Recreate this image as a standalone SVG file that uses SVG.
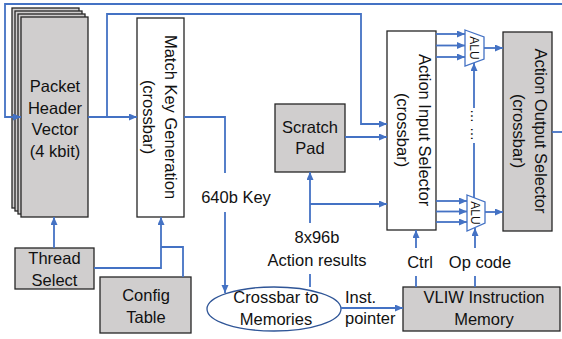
<svg xmlns="http://www.w3.org/2000/svg" width="562" height="339" viewBox="0 0 562 339">
  <defs>
    <marker id="arrow" markerUnits="userSpaceOnUse" markerWidth="9" markerHeight="8" refX="8" refY="3.5" orient="auto">
      <path d="M0,0 L8,3.5 L0,7 z" fill="#4472C4"/>
    </marker>
    <style>
      .box { fill: #D0CECE; stroke: #262626; stroke-width: 1.3; }
      .wbox { fill: #FFFFFF; stroke: #262626; stroke-width: 1.3; }
      .alu { fill: #FFFFFF; stroke: #4472C4; stroke-width: 1.3; }
      .wire { fill: none; stroke: #4472C4; stroke-width: 1.8; }
      .arr { marker-end: url(#arrow); }
      text { font-family: "Liberation Sans", Arial, sans-serif; font-size: 16.5px; fill: #111111; }
      .c { text-anchor: middle; }
      .small { font-size: 12px; }
    </style>
  </defs>
  <rect width="562" height="339" fill="#FFFFFF"/>

  <!-- Packet header vector: stack of four thread copies -->
  <g id="phv">
    <rect class="box" x="12" y="8" width="67" height="200"/>
    <rect class="box" x="15" y="11" width="67" height="200"/>
    <rect class="box" x="18" y="14" width="67" height="200"/>
    <rect class="box" x="21" y="17" width="67" height="200"/>
    <text class="c" x="55" y="92">Packet</text>
    <text class="c" x="55" y="113.5">Header</text>
    <text class="c" x="55" y="135">Vector</text>
    <text class="c" x="55" y="157">(4 kbit)</text>
  </g>

  <g id="match-key">
    <rect class="wbox" x="137" y="18" width="47" height="199"/>
    <text class="c" transform="translate(165,117) rotate(90)">Match Key Generation</text>
    <text class="c" transform="translate(143,117) rotate(90)">(crossbar)</text>
  </g>

  <g id="scratch-pad">
    <rect class="box" x="275" y="104" width="70" height="68"/>
    <text class="c" x="310" y="133">Scratch</text>
    <text class="c" x="310" y="154">Pad</text>
  </g>

  <g id="action-input">
    <rect class="wbox" x="387" y="31" width="49" height="199"/>
    <text class="c" transform="translate(419,130) rotate(90)">Action Input Selector</text>
    <text class="c" transform="translate(397,130) rotate(90)">(crossbar)</text>
  </g>

  <g id="alu-top">
    <path class="alu" d="M465,30 L484,37 L484,59 L465,66 Z"/>
    <text class="c small" transform="translate(469.5,48) rotate(90)">ALU</text>
  </g>

  <g id="alu-bottom">
    <path class="alu" d="M467,195 L485,202 L485,223 L467,231 Z"/>
    <text class="c small" transform="translate(471,213) rotate(90)">ALU</text>
  </g>

  <g id="action-output">
    <rect class="box" x="503" y="32" width="49" height="199"/>
    <text class="c" transform="translate(535,131) rotate(90)">Action Output Selector</text>
    <text class="c" transform="translate(513,131) rotate(90)">(crossbar)</text>
  </g>

  <g id="thread-select">
    <rect class="box" x="15" y="248" width="79" height="41"/>
    <text class="c" x="54.5" y="264">Thread</text>
    <text class="c" x="54.5" y="286">Select</text>
  </g>

  <g id="config-table">
    <rect class="box" x="100" y="277" width="91" height="56"/>
    <text class="c" x="146" y="301">Config</text>
    <text class="c" x="146" y="323">Table</text>
  </g>

  <g id="crossbar-mem">
    <ellipse cx="274" cy="309" rx="67" ry="22" fill="#FFFFFF" stroke="#2F5597" stroke-width="1.3"/>
    <text class="c" x="276" y="303">Crossbar to</text>
    <text class="c" x="276" y="325">Memories</text>
  </g>

  <g id="vliw">
    <rect class="box" x="403" y="287" width="157" height="44"/>
    <text class="c" x="484" y="303">VLIW Instruction</text>
    <text class="c" x="484" y="325">Memory</text>
  </g>

  <!-- Connectors -->
  <g id="connectors">
    <!-- recirculation loop back into the PHV -->
    <path class="wire" d="M562,4 L5,4 L5,117 L21,117" marker-end="url(#arrow)"/>
    <path class="wire" d="M552,132 L562,132"/>
    <!-- PHV to match key generation, with branch to action input selector -->
    <path class="wire arr" d="M88,117 L137,117"/>
    <path class="wire arr" d="M107,117 L107,14 L361,14 L361,124 L387,124"/>
    <!-- 640b key to crossbar -->
    <path class="wire" d="M184,117 L225,117 L225,173"/>
    <path class="wire arr" d="M225,212 L225,293"/>
    <!-- action results -->
    <path class="wire" d="M310,287 L310,274"/>
    <path class="wire arr" d="M310,223 L310,172"/>
    <path class="wire arr" d="M310,204 L387,204"/>
    <!-- scratch pad to input selector -->
    <path class="wire arr" d="M345,137 L387,137"/>
    <!-- input selector to ALUs -->
    <path class="wire arr" d="M436,34 L465,34"/>
    <path class="wire arr" d="M436,45.5 L465,45.5"/>
    <path class="wire arr" d="M436,57 L465,57"/>
    <path class="wire arr" d="M436,201 L467,201"/>
    <path class="wire arr" d="M436,211.5 L467,211.5"/>
    <path class="wire arr" d="M436,222 L467,222"/>
    <!-- ALUs to output selector -->
    <path class="wire arr" d="M484,48 L503,48"/>
    <path class="wire arr" d="M485,212 L503,212"/>
    <!-- opcode chain between ALUs -->
    <path class="wire" d="M474,198 L474,143"/>
    <path class="wire arr" d="M474,108 L474,63"/>
    <text transform="translate(471,109) rotate(90)" style="font-size:14px">… …</text>
    <!-- thread select and config table -->
    <path class="wire arr" d="M54,248 L54,217"/>
    <path class="wire arr" d="M94,268 L161,268 L161,217"/>
    <path class="wire" d="M183,277 L183,247 L161,247"/>
    <!-- instruction pointer -->
    <path class="wire arr" d="M341,308 L403,308"/>
    <!-- control and opcode from VLIW memory -->
    <path class="wire" d="M416,287 L416,276"/>
    <path class="wire arr" d="M416,248 L416,230"/>
    <path class="wire" d="M475,287 L475,276"/>
    <path class="wire arr" d="M475,248 L475,228"/>
  </g>

  <g id="labels">
    <text class="c" x="236" y="203">640b Key</text>
    <text class="c" x="317" y="243">8x96b</text>
    <text class="c" x="317" y="266">Action results</text>
    <text x="345" y="303">Inst.</text>
    <text x="345" y="324">pointer</text>
    <text class="c" x="420" y="268">Ctrl</text>
    <text class="c" x="480" y="268">Op code</text>
  </g>
</svg>
